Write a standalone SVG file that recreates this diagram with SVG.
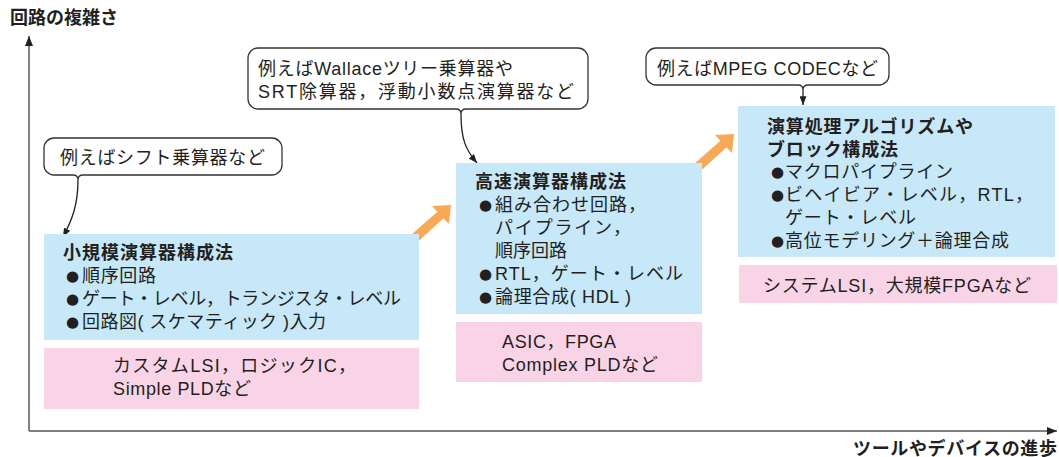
<svg xmlns="http://www.w3.org/2000/svg" width="1059" height="457" viewBox="0 0 1059 457">
<style>
.t{font-family:"Liberation Sans","Noto Sans CJK JP",sans-serif;font-size:18px;fill:#231f20}
.b{font-weight:700}
.bul{font-family:"DejaVu Sans",sans-serif;font-size:15px;fill:#231f20}
.blue{fill:#c6e8f8}
.pink{fill:#f9d4e6}
.callout{fill:#fff;stroke:#333;stroke-width:1.3}
.tail{fill:none;stroke:#231f20;stroke-width:1.3}
.axis{fill:none;stroke:#808080;stroke-width:2}
.orange{fill:#f8a955}
</style>
<defs>
<marker id="ah" viewBox="0 0 10 8" refX="10" refY="4" markerWidth="9" markerHeight="7" markerUnits="userSpaceOnUse" orient="auto">
<path d="M0,0 L10,4 L0,8 Z" fill="#231f20"/>
</marker>
<marker id="axh" viewBox="0 0 10 8" refX="10" refY="4" markerWidth="11" markerHeight="8" markerUnits="userSpaceOnUse" orient="auto">
<path d="M0,0 L10,4 L0,8 Z" fill="#231f20"/>
</marker>
<path id="bigarrow" d="M403,242 L437.5,211.7 L432,206 L451,205 L449,224 L443.5,218.3 L410,249 Z"/>
</defs>

<g id="axes">
<path class="axis" d="M29,431 V36" marker-end="url(#axh)"/>
<path class="axis" d="M29,431 H1057" marker-end="url(#axh)"/>
<text class="t b" x="10" y="24" textLength="108">回路の複雑さ</text>
<text class="t b" x="853" y="455" textLength="204">ツールやデバイスの進歩</text>
</g>

<g id="connectors">
<path class="tail" d="M78,180 C78,205 72,220 63,237" marker-end="url(#ah)"/>
<path class="tail" d="M461,114 C461,140 466,150 477,163" marker-end="url(#ah)"/>
<path class="tail" d="M803,90 L803,105" marker-end="url(#ah)"/>
<use href="#bigarrow" class="orange"/>
<use href="#bigarrow" class="orange" transform="translate(283,-71)"/>
</g>

<g id="callout-shift">
<path class="callout" d="M54,138 H272 A10,10 0 0 1 282,148 V165 A10,10 0 0 1 272,175 H83 Q78,175 78,180 Q78,175 73,175 H54 A10,10 0 0 1 44,165 V148 A10,10 0 0 1 54,138 Z"/>
<text class="t" x="60" y="164" textLength="205">例えばシフト乗算器など</text>
</g>

<g id="callout-wallace">
<path class="callout" d="M258,48 H578 A10,10 0 0 1 588,58 V99 A10,10 0 0 1 578,109 H466 Q461,109 461,114 Q461,109 456,109 H258 A10,10 0 0 1 248,99 V58 A10,10 0 0 1 258,48 Z"/>
<text class="t" x="258" y="75" textLength="255">例えばWallaceツリー乗算器や</text>
<text class="t" x="258" y="98" textLength="316">SRT除算器，浮動小数点演算器など</text>
</g>

<g id="callout-mpeg">
<path class="callout" d="M656,48 H879 A10,10 0 0 1 889,58 V75 A10,10 0 0 1 879,85 H808 Q803,85 803,90 Q803,85 798,85 H656 A10,10 0 0 1 646,75 V58 A10,10 0 0 1 656,48 Z"/>
<text class="t" x="657" y="75" textLength="221">例えばMPEG CODECなど</text>
</g>

<g id="node-small">
<rect class="blue" x="44" y="234" width="375" height="106"/>
<text class="t b" x="63" y="259" textLength="170">小規模演算器構成法</text>
<text class="bul" x="66" y="281">●</text><text class="t" x="82" y="282" textLength="74">順序回路</text>
<text class="bul" x="66" y="304">●</text><text class="t" x="82" y="305" textLength="319">ゲート・レベル，トランジスタ・レベル</text>
<text class="bul" x="66" y="327">●</text><text class="t" x="82" y="328" textLength="244">回路図( スケマティック )入力</text>
</g>

<g id="devices-small">
<rect class="pink" x="44" y="348" width="375" height="61"/>
<text class="t" x="113" y="372" textLength="243">カスタムLSI，ロジックIC，</text>
<text class="t" x="113" y="395" textLength="138">Simple PLDなど</text>
</g>

<g id="node-fast">
<rect class="blue" x="456" y="163" width="246" height="151"/>
<text class="t b" x="475" y="188" textLength="151">高速演算器構成法</text>
<text class="bul" x="479" y="210">●</text><text class="t" x="495" y="211" textLength="151">組み合わせ回路，</text>
<text class="t" x="495" y="234" textLength="136">パイプライン，</text>
<text class="t" x="495" y="257">順序回路</text>
<text class="bul" x="479" y="279">●</text><text class="t" x="495" y="280" textLength="188">RTL，ゲート・レベル</text>
<text class="bul" x="479" y="302">●</text><text class="t" x="495" y="303" textLength="136">論理合成( HDL )</text>
</g>

<g id="devices-fast">
<rect class="pink" x="456" y="322" width="246" height="60"/>
<text class="t" x="502" y="348" textLength="114">ASIC，FPGA</text>
<text class="t" x="502" y="371" textLength="156">Complex PLDなど</text>
</g>

<g id="node-algo">
<rect class="blue" x="738" y="106" width="317" height="151"/>
<text class="t b" x="767" y="133" textLength="206">演算処理アルゴリズムや</text>
<text class="t b" x="767" y="156" textLength="131">ブロック構成法</text>
<text class="bul" x="771" y="177">●</text><text class="t" x="785" y="178" textLength="168">マクロパイプライン</text>
<text class="bul" x="771" y="200">●</text><text class="t" x="785" y="201" textLength="248">ビヘイビア・レベル，RTL，</text>
<text class="t" x="785" y="224" textLength="131">ゲート・レベル</text>
<text class="bul" x="771" y="246">●</text><text class="t" x="785" y="247" textLength="224">高位モデリング＋論理合成</text>
</g>

<g id="devices-algo">
<rect class="pink" x="739" y="265" width="318" height="38"/>
<text class="t" x="763" y="292" textLength="268">システムLSI，大規模FPGAなど</text>
</g>
</svg>
